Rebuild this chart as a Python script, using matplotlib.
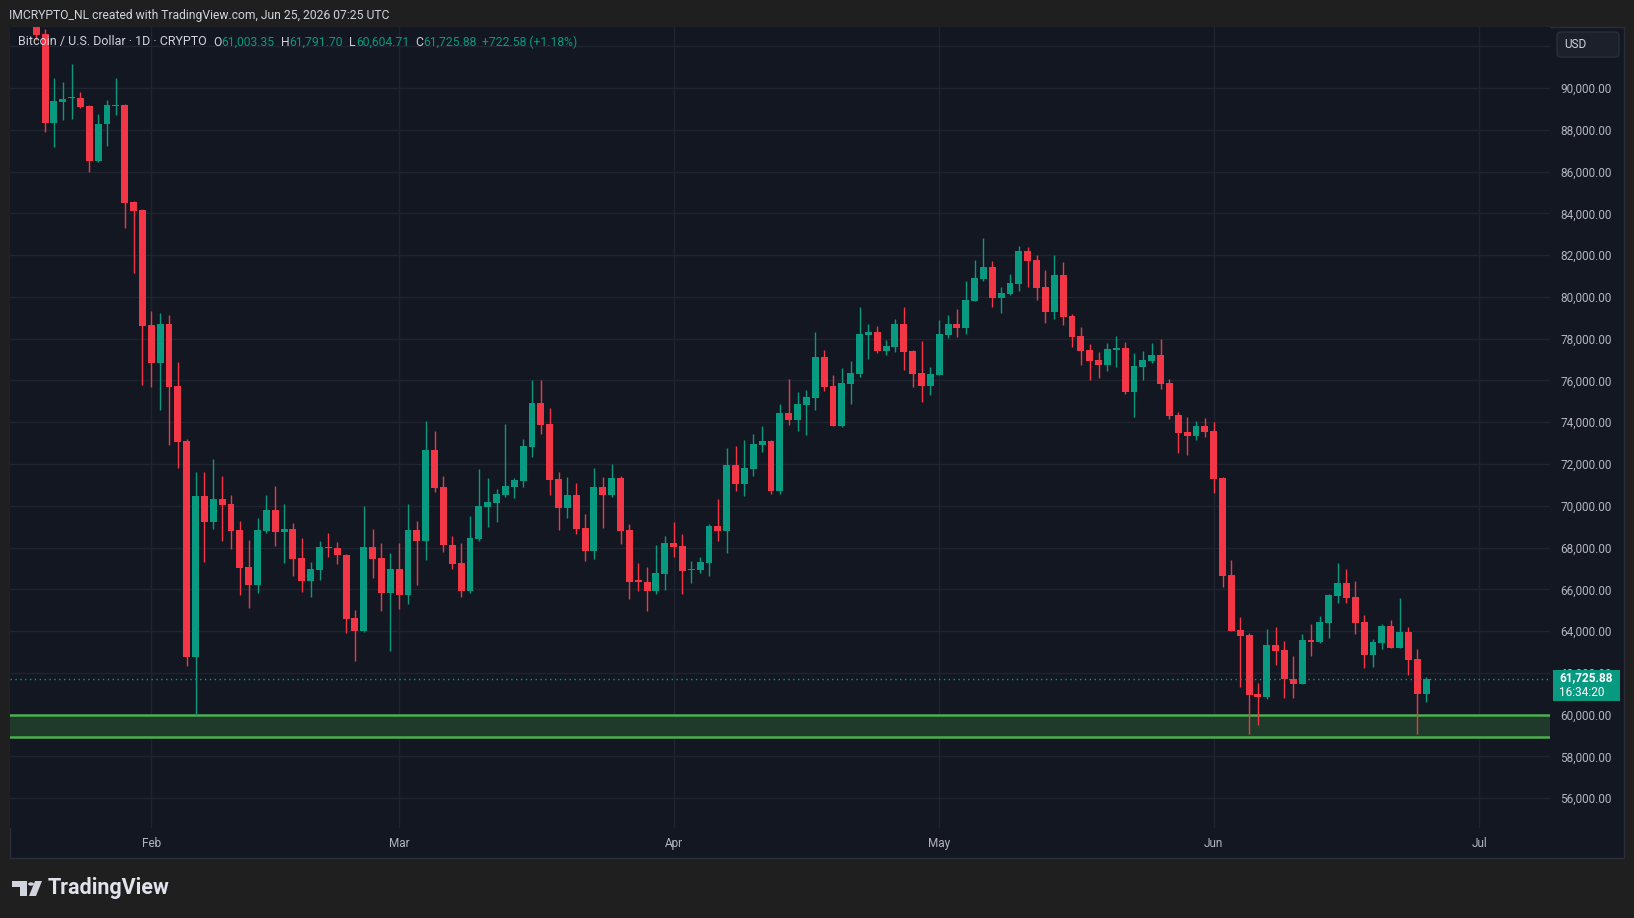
import matplotlib
matplotlib.use('Agg')
import matplotlib.pyplot as plt
import matplotlib.dates as mdates
from matplotlib.patches import Rectangle, Polygon, Circle, FancyBboxPatch
import pandas as pd

# daily BTC/USD candles, Jan 19 .. Jun 25 2026
start_day = '2026-01-19'
opens = [
    93500, 92590, 88340, 89350, 89500, 89510, 89150, 86520, 88260, 89150, 89190, 84530, 84160,
    78650, 76850, 78700, 75730, 73100, 62770, 70470, 69240, 70320, 70080, 68840, 67070, 66220, 68810,
    69800, 68760, 68890, 67500, 66410, 66940, 68030, 67980, 67640, 64630, 64020, 68030, 67500, 65840,
    66970, 65740, 68840, 68330, 72670, 70900, 68120, 67260, 65940, 68410, 69960, 70150, 70520, 70910,
    71200, 72830, 74920, 73920, 71280, 69910, 70520, 68940, 67850, 70900, 70530, 71330, 68840, 66400,
    66370, 65940, 66750,
    68220, 68070, 66920, 66920, 67260, 69030, 68810, 71950, 71060, 71780, 72930, 73100, 70720, 74440,
    74120, 74840, 75180, 77120, 75730, 73830, 75850, 76320, 78190, 78320, 77410, 77620, 78700, 77410,
    76360, 75750,
    76280, 78190, 78700, 78530, 79820, 80860, 81430, 79960, 80150, 80630, 82200, 81770, 80470, 79290,
    81050, 79090, 78130, 77460, 76980, 76740, 77460, 77550, 75460, 76640, 76930, 77220, 75880, 74330,
    73530, 73360, 73820,
    73580, 71330, 66690, 64050, 63810, 60990, 60860, 63340, 63100, 61690, 61480, 63580, 63500, 64400,
    65700, 66300, 65630, 64440, 62870, 63450, 64250, 63210, 63960, 62670, 61003.35,
]
highs = [
    94000, 92830, 90500, 90300, 91150, 89820, 89190, 88760, 89430, 90500, 89230, 84590, 84200,
    79330, 79230, 79130, 76880, 73180, 71620, 71620, 72240, 71430, 70520, 69290, 68360, 69410, 70520,
    70950, 70080, 69170, 68470, 67310, 68310, 68700, 68260, 67690, 65010, 69990, 68890, 68200, 67740,
    68220, 70090, 69270, 74060, 73580, 71430, 68550, 68220, 69510, 71760, 71330, 70800, 73920, 71330,
    73200, 76020, 76020, 74680, 71620, 71390, 71070, 69610, 71810, 71380, 72000, 71430, 69130, 67260,
    67070, 68120, 68550,
    69220, 68650, 67360, 67550, 69130, 70320, 72770, 72860, 73150, 73440, 73820, 73150, 74870, 76070,
    75450, 75540, 78320, 77460, 76260, 76600, 76930, 79510, 78700, 78610, 77940, 78940, 79500, 77460,
    77890, 76640,
    78890, 79130, 79420, 80760, 81770, 82820, 81720, 80470, 81100, 82440, 82390, 82000, 81290, 82000,
    81670, 79180, 78560, 77740, 77360, 77790, 78130, 77840, 77310, 77410, 77790, 77980, 76070, 74490,
    74250, 74060, 74200,
    74010, 71400, 67400, 64670, 63890, 61500, 64100, 64180, 63530, 62810, 63860, 64340, 64720, 65780,
    67260, 66970, 66400, 64770, 63620, 64340, 64530, 65590, 64200, 63140, 61791.70,
]
lows = [
    92300, 87910, 87190, 88470, 88520, 89060, 85990, 86470, 87240, 88710, 83310, 81130, 75780,
    75700, 74600, 72930, 71820, 62340, 59980, 67320, 68900, 68330, 67950, 65740, 65120, 65840, 68710,
    68090, 67280, 66650, 65890, 65650, 66460, 67560, 67230, 63930, 62580, 63970, 66560, 64980, 63060,
    65070, 65310, 66220, 67410, 70680, 67800, 66970, 65650, 65840, 68300, 69000, 69240, 70440, 70390,
    70910, 72350, 73450, 70530, 68860, 69430, 68630, 67370, 67470, 68950, 70440, 68190, 65550, 65940,
    64980, 65780, 65970,
    67560, 65790, 66320, 66780, 66650, 68330, 67750, 70710, 70480, 71440, 72590, 70580, 70580, 73880,
    73600, 73400, 74600, 75510, 73800, 73790, 74890, 76180, 77030, 77330, 77230, 77380, 76520, 75700,
    74980, 75320,
    76250, 78050, 78100, 78240, 79800, 80780, 79530, 79240, 80100, 80300, 80490, 79870, 78770, 78960,
    78670, 77620, 76750, 76030, 76120, 76450, 76640, 75370, 74270, 76020, 76840, 75590, 74170, 72540,
    72450, 73160, 73310,
    70630, 66130, 64000, 61340, 59070, 59510, 60770, 62380, 60800, 60800, 61450, 62810, 63450, 63690,
    65360, 65360, 63880, 62250, 62300, 63160, 63200, 63200, 61900, 59090, 60604.71,
]
closes = [
    92540, 88340, 89380, 89470, 89540, 89110, 86520, 88280, 89190, 89190, 84510, 84130, 78620,
    76850, 78700, 75700, 73050, 62770, 70470, 69240, 70320, 70050, 68810, 67040, 66220, 68840, 69800,
    68760, 68890, 67470, 66410, 66970, 68030, 67990, 67630, 64580, 64020, 68030, 67450, 65840, 66970,
    65740, 68840, 68330, 72670, 70870, 68140, 67230, 65940, 68460, 69990, 70180, 70560, 70950, 71230,
    72860, 74920, 73880, 71250, 69910, 70520, 68900, 67850, 70900, 70530, 71330, 68810, 66370, 66370,
    65940, 66780, 68220,
    68030, 66880, 66970, 67310, 69030, 68810, 71950, 71060, 71810, 72960, 73100, 70720, 74440, 74120,
    74870, 75210, 77120, 75700, 73830, 75880, 76360, 78220, 78310, 77410, 77650, 78700, 77380, 76320,
    75750, 76310,
    78220, 78700, 78530, 79850, 80900, 81430, 79960, 80190, 80670, 82200, 81730, 80440, 79290, 81050,
    79050, 78100, 77430, 76940, 76740, 77510, 77550, 75460, 76690, 76980, 77220, 75850, 74310, 73480,
    73360, 73820, 73550,
    71300, 66650, 64020, 63780, 60940, 60860, 63340, 63060, 61690, 61480, 63580, 63500, 64440, 65730,
    66300, 65600, 64410, 62870, 63480, 64250, 63210, 63960, 62630, 61005, 61725.88,
]

zone_low, zone_high = 58950, 60000
last_price = 61725.88
price_ticks = list(range(56000, 92001, 2000))
month_starts = ['2026-02-01', '2026-03-01', '2026-04-01', '2026-05-01', '2026-06-01', '2026-07-01']
month_labels = ['Feb', 'Mar', 'Apr', 'May', 'Jun', 'Jul']

UP = '#089981'
DOWN = '#f23645'
BG = '#131722'
OUTER = '#1f1f1f'
TXT = '#d1d4dc'
AXTXT = '#b2b5be'
GRID = '#202430'

W, H = 1634, 918
def fx(px):
    return px / W
def fy(py):
    return 1 - py / H

plt.rcParams['font.family'] = ['Roboto', 'DejaVu Sans']

fig = plt.figure(figsize=(W / 100, H / 100), dpi=100, facecolor=OUTER)

# chart panel
fig.add_artist(Rectangle((fx(10), fy(858)), (1624 - 10) / W, (858 - 27) / H, transform=fig.transFigure,
                         facecolor=BG, edgecolor='#2a2e39', lw=1, zorder=-1))

ax = fig.add_axes([fx(10), fy(828), (1550 - 10) / W, (828 - 27) / H])
ax.set_facecolor(BG)
for s in ax.spines.values():
    s.set_visible(False)

dates = pd.date_range(start_day, periods=len(opens), freq='D')
xs = mdates.date2num(dates)
cols = [UP if c >= o else DOWN for o, c in zip(opens, closes)]
bottoms = [min(o, c) for o, c in zip(opens, closes)]
heights = [max(abs(c - o), 60) for o, c in zip(opens, closes)]

ax.vlines(xs, lows, highs, colors=cols, lw=1, zorder=3)
ax.bar(xs, heights, bottom=bottoms, width=0.78, color=cols, linewidth=0, zorder=4)

# support zone
ax.axhspan(zone_low, zone_high, facecolor='#1f3a2b', edgecolor='none', zorder=2)
ax.axhline(zone_high, color='#4caf50', lw=1.8, zorder=2.5)
ax.axhline(zone_low, color='#4caf50', lw=1.8, zorder=2.5)

# last price line
ax.axhline(last_price, color=UP, lw=1, linestyle=(0, (1, 2.5)), zorder=5)

# scales: 47.87 USD per pixel, 90,000 at y=88 px; Feb 1 at x=151.3 px, 8.853 px per day
feb1 = mdates.date2num(pd.Timestamp('2026-02-01'))
ax.set_xlim(feb1 - (151.3 - 10) / 8.853, feb1 + (1550 - 151.3) / 8.853)
ax.set_ylim(90000 - (828 - 88) * 47.87, 90000 + (88 - 27) * 47.87)

ax.yaxis.tick_right()
ax.set_yticks(price_ticks)
# the 92,000 label sits under the USD box in the reference
ax.set_yticklabels([f'{v:,.2f}' if v < 92000 else '' for v in price_ticks])
ax.set_xticks(mdates.date2num(pd.to_datetime(month_starts)))
ax.set_xticklabels(month_labels)
ax.tick_params(axis='y', length=0, pad=7.5, labelsize=8.5, labelcolor=AXTXT)
ax.tick_params(axis='x', length=0, pad=6.5, labelsize=8.5, labelcolor=AXTXT)
ax.grid(True, color=GRID, lw=1)

# USD box
fig.add_artist(FancyBboxPatch((fx(1557), fy(57)), 62 / W, 25 / H, boxstyle='round,pad=0,rounding_size=0.003',
                              transform=fig.transFigure, facecolor='#1c202b', edgecolor='#2a2e39', lw=1, zorder=5))
fig.text(fx(1564), fy(44.5), 'USD', color=TXT, fontsize=8.5, va='center', zorder=6)

# last price label
fig.add_artist(Rectangle((fx(1553), fy(701)), 67 / W, 31 / H, transform=fig.transFigure,
                         facecolor=UP, edgecolor='none', zorder=5))
fig.text(fx(1559), fy(678), f'{last_price:,.2f}', color='white', fontsize=8.5, fontweight='bold', va='center', zorder=6)
fig.text(fx(1559), fy(692), '16:34:20', color='white', fontsize=8.5, va='center', zorder=6)

# top texts
fig.text(fx(9), fy(15.5), 'IMCRYPTO_NL created with TradingView.com, Jun 25, 2026 07:25 UTC',
         color=TXT, fontsize=8.7, va='center')
ty = fy(42)
fig.text(fx(18), ty, 'Bitcoin / U.S. Dollar \u00b7 1D \u00b7 CRYPTO', color=TXT, fontsize=9, va='center', zorder=6)
for lx, letter, vx, val in [(213, 'O', 221, '61,003.35'), (281, 'H', 289, '61,791.70'),
                            (349, 'L', 356, '60,604.71'), (415, 'C', 423, '61,725.88')]:
    fig.text(fx(lx), ty, letter, color=TXT, fontsize=8.7, va='center', zorder=6)
    fig.text(fx(vx), ty, val, color=UP, fontsize=8.7, va='center', zorder=6)
fig.text(fx(482), ty, '+722.58 (+1.18%)', color=UP, fontsize=8.7, va='center', zorder=6)

# footer logo
LOGO = '#d1d4dc'
fig.add_artist(Polygon([(fx(12), fy(881)), (fx(27), fy(881)), (fx(27), fy(896)), (fx(20), fy(896)),
                        (fx(20), fy(887)), (fx(12), fy(887))], closed=True, transform=fig.transFigure,
                       facecolor=LOGO, edgecolor='none'))
fig.add_artist(Circle((fx(31), fy(884)), 3 / W, transform=fig.transFigure, facecolor=LOGO, edgecolor='none'))
fig.add_artist(Polygon([(fx(35), fy(881)), (fx(42), fy(881)), (fx(36), fy(896)), (fx(29), fy(896))], closed=True,
                       transform=fig.transFigure, facecolor=LOGO, edgecolor='none'))
fig.text(fx(48), fy(888), 'TradingView', color='#e0e3eb', fontsize=15.5, fontweight='bold', va='center')

fig.savefig('out.png', dpi=100, facecolor=OUTER)
